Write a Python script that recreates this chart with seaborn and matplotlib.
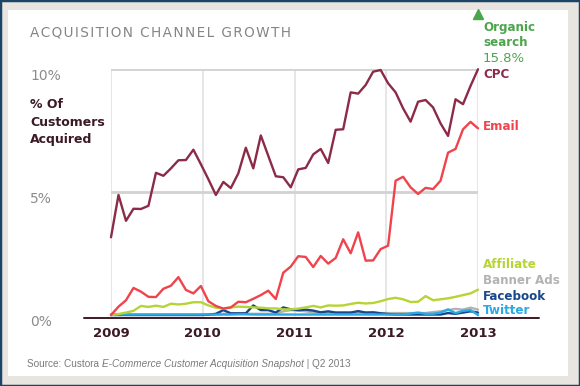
import numpy as np
import pandas as pd
import matplotlib.pyplot as plt
import seaborn as sns
from matplotlib.patches import Rectangle
from matplotlib.lines import Line2D

# Monthly share of customers acquired (%), Jan 2009 .. early 2013 (50 points)
cpc = [3.16, 4.88, 3.83, 4.32, 4.31, 4.44, 5.78, 5.66, 5.96, 6.29,
       6.30, 6.72, 6.13, 5.52, 4.88, 5.41, 5.16, 5.76, 6.80, 5.96,
       7.30, 6.47, 5.64, 5.60, 5.19, 5.92, 5.98, 6.53, 6.75, 6.18,
       7.53, 7.55, 9.05, 9.00, 9.35, 9.89, 9.96, 9.42, 9.05, 8.40,
       7.86, 8.67, 8.74, 8.44, 7.79, 7.28, 8.77, 8.57, 9.31, 9.99]
email = [0.00, 0.34, 0.60, 1.10, 0.95, 0.74, 0.73, 1.07, 1.19, 1.54,
         1.02, 0.88, 1.18, 0.56, 0.37, 0.26, 0.31, 0.54, 0.52, 0.66,
         0.81, 0.99, 0.65, 1.72, 1.97, 2.39, 2.36, 1.95, 2.40, 2.09,
         2.32, 3.08, 2.51, 3.36, 2.21, 2.22, 2.68, 2.82, 5.46, 5.62,
         5.19, 4.92, 5.17, 5.12, 5.46, 6.60, 6.75, 7.55, 7.85, 7.59]
affiliate = [0.00, 0.04, 0.10, 0.17, 0.37, 0.33, 0.38, 0.33, 0.46, 0.43,
             0.46, 0.52, 0.52, 0.39, 0.30, 0.27, 0.31, 0.34, 0.33, 0.31,
             0.30, 0.27, 0.27, 0.23, 0.23, 0.26, 0.31, 0.37, 0.31, 0.39,
             0.38, 0.39, 0.45, 0.50, 0.47, 0.49, 0.56, 0.65, 0.70, 0.64,
             0.53, 0.54, 0.77, 0.60, 0.64, 0.68, 0.74, 0.81, 0.88, 1.03]
banner = [0.02, 0.02, 0.02, 0.02, 0.02, 0.02, 0.02, 0.02, 0.02, 0.02,
          0.02, 0.02, 0.02, 0.02, 0.02, 0.05, 0.05, 0.05, 0.05, 0.05,
          0.05, 0.05, 0.05, 0.15, 0.20, 0.18, 0.15, 0.10, 0.10, 0.10,
          0.10, 0.10, 0.10, 0.10, 0.10, 0.10, 0.08, 0.08, 0.08, 0.08,
          0.08, 0.08, 0.08, 0.12, 0.15, 0.20, 0.25, 0.22, 0.30, 0.22]
facebook = [0.00, 0.00, 0.00, 0.00, 0.00, 0.00, 0.00, 0.00, 0.00, 0.00,
            0.00, 0.00, 0.00, 0.01, 0.05, 0.20, 0.07, 0.07, 0.07, 0.39,
            0.20, 0.20, 0.10, 0.31, 0.23, 0.20, 0.22, 0.18, 0.11, 0.15,
            0.10, 0.10, 0.10, 0.16, 0.10, 0.11, 0.07, 0.04, 0.02, 0.02,
            0.02, 0.02, 0.02, 0.02, 0.02, 0.08, 0.05, 0.10, 0.15, 0.10]
twitter = [0.02, 0.02, 0.02, 0.02, 0.02, 0.02, 0.02, 0.02, 0.02, 0.02,
           0.02, 0.02, 0.02, 0.02, 0.02, 0.02, 0.02, 0.03, 0.03, 0.02,
           0.02, 0.02, 0.02, 0.02, 0.02, 0.02, 0.02, 0.02, 0.02, 0.02,
           0.02, 0.02, 0.02, 0.02, 0.02, 0.02, 0.02, 0.02, 0.02, 0.02,
           0.06, 0.10, 0.05, 0.05, 0.10, 0.23, 0.08, 0.17, 0.20, 0.00]

channels = ["Banner Ads", "Facebook", "Twitter", "Affiliate", "Email", "CPC"]
series = [banner, facebook, twitter, affiliate, email, cpc]
colors = {"CPC": "#8c2b48", "Email": "#f1434b", "Affiliate": "#b6d433",
          "Banner Ads": "#b3b3b3", "Facebook": "#17478c", "Twitter": "#2aaae4"}
year_ticks = [2009, 2010, 2011, 2012, 2013]
organic_share = "15.8%"

months = np.linspace(2009, 2013, len(cpc))
df = pd.concat([pd.DataFrame({"year": months, "share": vals, "channel": name})
                for name, vals in zip(channels, series)], ignore_index=True)

sns.set_style("white")
plt.rcParams['font.family'] = ['DejaVu Sans']

fig = plt.figure(figsize=(5.8, 3.86), dpi=100)
fig.patch.set_facecolor("#e8e4df")
fig.patches.append(Rectangle((8 / 580, 10 / 386), 560 / 580, 366 / 386,
                             transform=fig.transFigure, facecolor="white",
                             edgecolor="none", zorder=-2))
fig.patches.append(Rectangle((0, 0), 1, 1, transform=fig.transFigure,
                             facecolor="none", edgecolor="#1b4466",
                             linewidth=2.5, zorder=-1))

ax = fig.add_axes([111 / 580, 1 - 317 / 386, 367 / 580, 248 / 386])
ax.set_facecolor("white")
sns.lineplot(data=df, x="year", y="share", hue="channel", hue_order=channels,
             palette=colors, linewidth=1.7, legend=False, ax=ax)
for ln in ax.lines:
    ln.set_clip_on(False)

ax.set_xlim(2009, 2013)
ax.set_ylim(-0.08, 10)
for s in ax.spines.values():
    s.set_visible(False)
for yr in year_ticks:
    ax.axvline(yr, color="#e4e4e4", linewidth=1.3, zorder=0)
for v in [5, 10]:
    ax.axhline(v, color="#d2d2d2", linewidth=2, zorder=0)

ax.set_xticks(year_ticks)
ax.set_xticklabels([str(y) for y in year_ticks], fontsize=9.5,
                   fontweight="bold", color="#3b1a26")
ax.tick_params(axis="x", length=0, pad=7)
ax.set_yticks([0, 5, 10])
ax.set_yticklabels(["0%", "5%", "10%"], fontsize=10, color="#8c8c8c")
ax.tick_params(axis="y", length=0, pad=81 * 72 / 100)
for lab in ax.get_yticklabels():
    lab.set_horizontalalignment("left")
    lab.set_verticalalignment("top")
ax.set_xlabel("")
ax.set_ylabel("")

# dark baseline running past the plot area
fig.add_artist(Line2D([84 / 580, 539 / 580], [1 - 318 / 386, 1 - 318 / 386],
                      transform=fig.transFigure, color="#3b1a26", linewidth=1.4))

fig.text(30 / 580, 1 - 32 / 386, "\u200a".join("ACQUISITION CHANNEL GROWTH"),
         fontsize=9.8, color="#858585", va="center", ha="left")
fig.text(30 / 580, 1 - 122 / 386, "% Of\nCustomers\nAcquired", fontsize=9,
         fontweight="bold", color="#3b1a26", va="center", ha="left",
         linespacing=1.5)

# series labels on the right
label_y = {"CPC": 75, "Email": 127, "Affiliate": 264, "Banner Ads": 281,
           "Facebook": 296, "Twitter": 311}
for name, py in label_y.items():
    fig.text(483 / 580, 1 - py / 386, name, fontsize=8.6, fontweight="bold",
             color=colors[name], va="center", ha="left")

green = "#4ba64b"
fig.text(483 / 580, 1 - 35 / 386, "Organic\nsearch", fontsize=8.6,
         fontweight="bold", color=green, va="center", ha="left", linespacing=1.25)
fig.text(483 / 580, 1 - 58 / 386, organic_share, fontsize=9.5, color=green,
         va="center", ha="left")
ax.plot([1.0], [(317 - 14) / 248], marker="^", markersize=7, color=green,
        transform=ax.transAxes, clip_on=False)

# source line with italic title
src_kw = dict(fontsize=7.2, color="#7a7a7a", family="Liberation Sans",
              va="center", ha="left", annotation_clip=False)
src1 = ax.annotate("Source: Custora ", xy=(27 / 580, 1 - 364 / 386),
                   xycoords="figure fraction", **src_kw)
src2 = ax.annotate("E-Commerce Customer Acquisition Snapshot", xy=(1, 0.5),
                   xycoords=src1, style="italic", **src_kw)
ax.annotate(" | Q2 2013", xy=(1, 0.5), xycoords=src2, **src_kw)

fig.savefig("out.png", dpi=100, facecolor=fig.get_facecolor())
